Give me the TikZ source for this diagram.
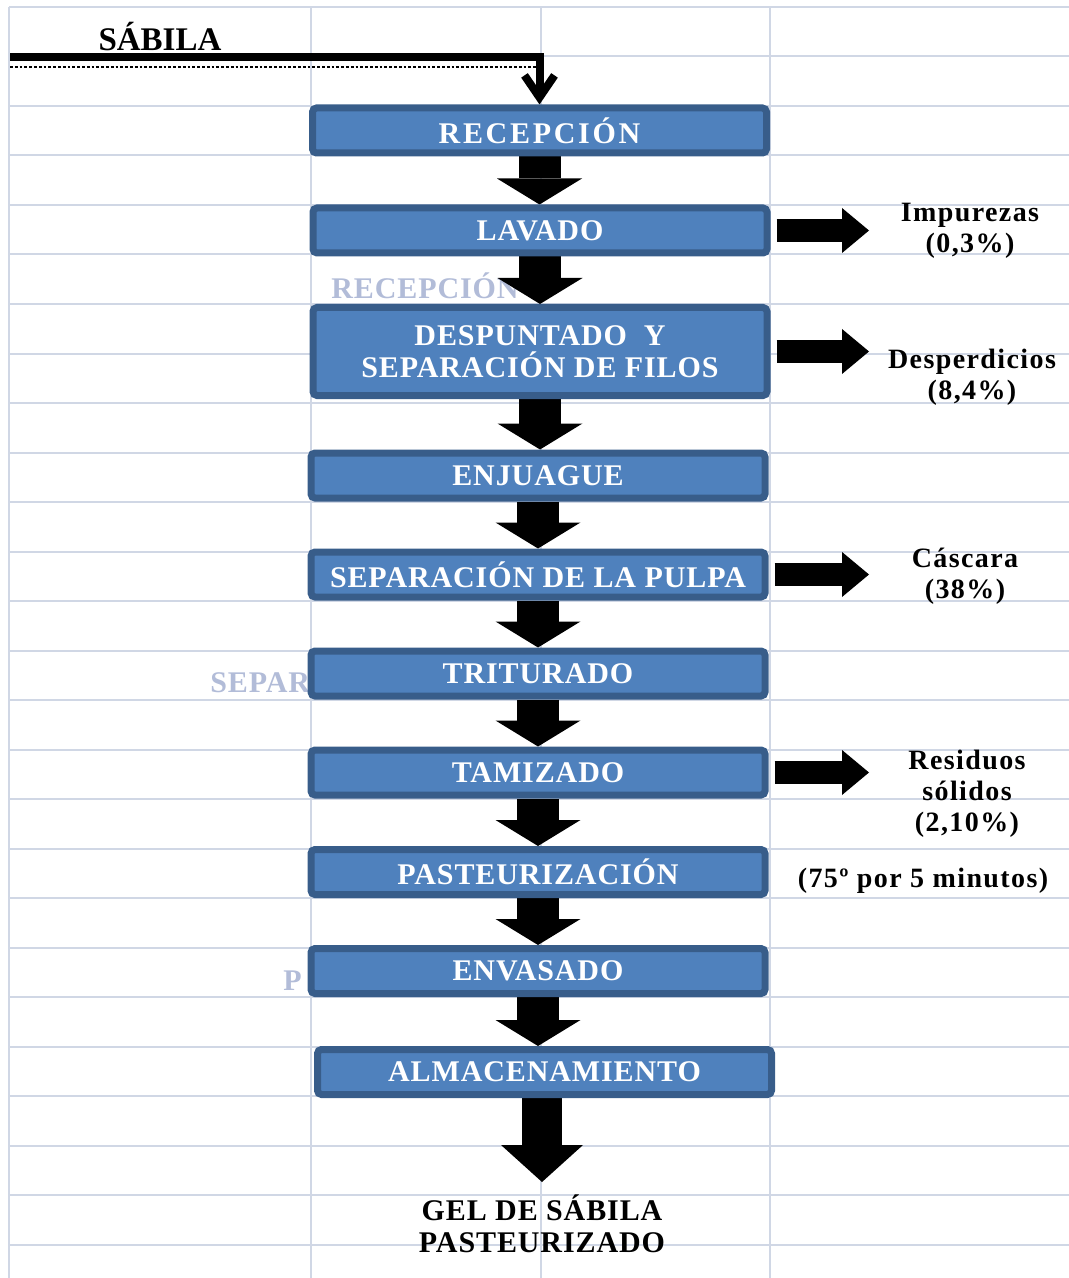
\documentclass[tikz,border=0pt]{standalone}
\usepackage{fontspec}
\setmainfont{Liberation Serif}
\newfontfamily\boxfont[LetterSpace=3]{Liberation Serif}
\newfontfamily\widefont[LetterSpace=9]{Liberation Serif}
\newfontfamily\notefont[LetterSpace=5]{Liberation Serif}
\usepackage{tikz}
\usetikzlibrary{arrows.meta, positioning, backgrounds}
\definecolor{boxfill}{RGB}{79,129,189}
\definecolor{boxline}{RGB}{56,93,138}
\definecolor{cellline}{RGB}{208,215,229}
\definecolor{ghost}{RGB}{178,188,216}

\begin{document}
\begin{tikzpicture}[
    x=0.5pt, y=-0.5pt,
    box/.style={rectangle, draw=boxline, fill=boxfill, line width=3.5pt, rounded corners=2pt, minimum width=227pt, minimum height=22.5pt, inner sep=0pt, align=center, text=white, font=\boxfont\bfseries\fontsize{15}{16}\selectfont},
    note/.style={align=center, inner sep=0pt, font=\notefont\bfseries\fontsize{14}{15.5}\selectfont},
    ghosttext/.style={inner sep=0pt, text=ghost, font=\boxfont\bfseries\fontsize{15}{16}\selectfont},
    cell/.style={draw=cellline, line width=1pt},
    downarrow/.style={line width=21pt, -{Triangle[length=13pt, width=42.5pt, line width=0pt]}},
    sidearrow/.style={line width=11.5pt, shorten <=3pt, -{Triangle[length=13.5pt, width=22.5pt, line width=0pt]}},
    feed/.style={line width=4pt, -{Straight Barb[length=11pt, width=15pt]}}
]
\useasboundingbox (0,0) rectangle (1069,1278);

% Raw material
\node[font=\bfseries\fontsize{16.5}{18}\selectfont, inner sep=0pt] (sabila) at (160,37) {SÁBILA};
\coordinate (feedstart) at (10,57);
\coordinate (sidetip) at (869,0);

% Process steps
\node[box, font=\widefont\bfseries\fontsize{15}{16}\selectfont] (recep) at (539.5,130.5) {RECEPCIÓN};
\node[box] (lavado) at (540,230.5) {LAVADO};
\node[box, minimum height=44pt] (desp) at (540,351.5) {DESPUNTADO~~Y\\SEPARACIÓN DE FILOS};
\node[box] (enjuague) at (538,475.5) {ENJUAGUE};
\node[box] (pulpa) at (538,574.5) {SEPARACIÓN DE LA PULPA};
\node[box] (triturado) at (538,673.5) {TRITURADO};
\node[box] (tamizado) at (538,772.5) {TAMIZADO};
\node[box] (pasteur) at (538,872) {PASTEURIZACIÓN};
\node[box] (envasado) at (538,971) {ENVASADO};
\node[box] (almacen) at (544.5,1072) {ALMACENAMIENTO};

% Final product
\node[note, font=\boxfont\bfseries\fontsize{15}{16}\selectfont, anchor=north, inner ysep=6pt] (gel) at (542,1182) {GEL DE SÁBILA\\PASTEURIZADO};

% Outputs
\node[note] (impurezas) at (970,231) {Impurezas\\(0,3\%)};
\node[note] (desperdicios) at (972,377) {Desperdicios\\(8,4\%)};
\node[note] (cascara) at (965,576) {Cáscara\\(38\%)};
\node[note] (residuos) at (967,794) {Residuos\\sólidos\\(2,10\%)};
\node[note] (temp) at (923,881) {(75º por 5 minutos)};

\begin{scope}[on background layer]
    % Sheet cells
    \foreach \r in {0,...,25}
        \draw[cell] (9,{7+49.5*\r}) -- (1069,{7+49.5*\r});
    \foreach \c in {9,311,541,770}
        \draw[cell] (\c,7) -- (\c,1278);

    % Leftover text
    \node[ghosttext] (ghost1) at (425,286) {RECEPCIÓN};
    \node[ghosttext, anchor=west] (ghost2) at (210,683) {SEPAR};
    \node[ghosttext, anchor=west] (ghost3) at (283,981) {P};

    % Feed
    \draw[feed] (feedstart) -| (recep.north);
    \draw[densely dotted, line width=1.4pt] ([yshift=-5pt]feedstart) -- ([yshift=-5pt]feedstart -| recep.north);

    % Flow
    \draw[downarrow] (recep.south) -- (recep.south |- lavado.north);
    \draw[downarrow] (lavado.south) -- (lavado.south |- desp.north);
    \draw[downarrow] (desp.south) -- (desp.south |- enjuague.north);
    \draw[downarrow] (enjuague.south) -- (enjuague.south |- pulpa.north);
    \draw[downarrow] (pulpa.south) -- (pulpa.south |- triturado.north);
    \draw[downarrow] (triturado.south) -- (triturado.south |- tamizado.north);
    \draw[downarrow] (tamizado.south) -- (tamizado.south |- pasteur.north);
    \draw[downarrow] (pasteur.south) -- (pasteur.south |- envasado.north);
    \draw[downarrow] (envasado.south) -- (envasado.south |- almacen.north);
    \draw[downarrow, line width=20pt, -{Triangle[length=18.5pt, width=41pt, line width=0pt]}] (almacen.south -| gel.north) -- (gel.north);

    % Side outputs
    \draw[sidearrow] (lavado.east) -- (lavado.east -| sidetip);
    \draw[sidearrow] (desp.east) -- (desp.east -| sidetip);
    \draw[sidearrow] (pulpa.east) -- (pulpa.east -| sidetip);
    \draw[sidearrow] (tamizado.east) -- (tamizado.east -| sidetip);
\end{scope}
\end{tikzpicture}
\end{document}
